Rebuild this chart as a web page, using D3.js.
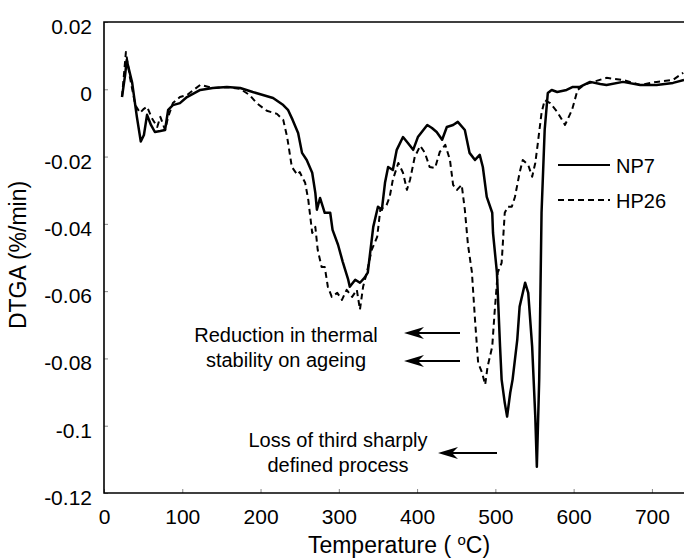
<!DOCTYPE html>
<html>
<head>
<meta charset="utf-8">
<script src="https://cdn.jsdelivr.net/npm/d3@7"></script>
<style>
  html, body { margin: 0; padding: 0; background: #fff; }
  svg { display: block; font-family: "Liberation Sans", Arial, Helvetica, sans-serif; }
</style>
</head>
<body>
<svg id="chart" width="684" height="560"></svg>
<script>
// ---- data (temperature °C, DTGA %/min) ----
const seriesNames = ["NP7", "HP26"];

const np7T = [23,27,29,36,42,47,51,55,60,65,72,78,82,88,97,106,123,139,157,174,190,203,216,229,235,241,248,253,259,266,270,272,276,282,289,292,299,305,312,314,321,327,333,337,344,350,355,359,363,369,374,382,388,395,401,413,419,425,432,438,446,452,461,467,474,480,484,489,496,497,502,506,508,512,515,519,522,528,531,538,542,547,551,553,556,559,563,567,572,579,591,599,608,621,634,642,663,685,706,727,741];
const np7V = [-0.0023,0.0043,0.0087,0.0019,-0.0082,-0.0155,-0.0136,-0.0076,-0.0106,-0.0127,-0.0124,-0.0121,-0.0061,-0.0047,-0.0041,-0.0023,-0.0002,0.0004,0.0007,0.0004,-0.0008,-0.0017,-0.0026,-0.0047,-0.0061,-0.0091,-0.013,-0.0189,-0.021,-0.0248,-0.0308,-0.0358,-0.0323,-0.0367,-0.0367,-0.0418,-0.0462,-0.0513,-0.0566,-0.0587,-0.0566,-0.0575,-0.056,-0.0545,-0.0409,-0.0349,-0.0358,-0.0278,-0.0231,-0.024,-0.018,-0.0142,-0.0159,-0.018,-0.0142,-0.0106,-0.0115,-0.0127,-0.015,-0.0112,-0.0106,-0.0097,-0.0121,-0.0189,-0.021,-0.0195,-0.0231,-0.032,-0.0367,-0.0427,-0.0545,-0.0765,-0.0863,-0.0932,-0.0973,-0.0902,-0.0863,-0.0744,-0.0646,-0.0575,-0.0605,-0.0765,-0.0973,-0.1122,-0.0863,-0.0367,-0.0121,-0.0011,-0.0002,-0.0008,-0.0002,0.0007,0.0007,0.0022,0.0016,0.0013,0.0022,0.0013,0.0013,0.0019,0.0028];

const hp26T = [23,26,28,33,40,46,51,55,61,68,72,78,82,88,97,106,123,139,157,174,186,195,208,221,229,234,240,247,250,257,261,266,270,273,278,282,286,291,298,304,310,317,323,327,331,336,342,349,353,361,365,369,376,382,387,391,397,404,410,416,423,429,436,442,446,451,457,461,465,470,474,478,483,487,490,496,499,503,508,512,516,521,525,531,535,542,547,551,554,559,563,570,579,589,598,605,613,625,642,663,685,706,727,740];
const hp26V = [-0.0023,0.0057,0.0111,0.0037,-0.0047,-0.007,-0.0058,-0.0052,-0.0085,-0.0112,-0.0082,-0.0121,-0.0082,-0.0041,-0.0023,-0.0017,0.0013,0.0004,0.0007,0.0001,-0.0017,-0.0041,-0.0064,-0.0073,-0.0091,-0.0142,-0.0231,-0.0254,-0.0246,-0.0278,-0.0329,-0.0427,-0.0409,-0.0477,-0.0528,-0.0528,-0.0587,-0.0617,-0.0605,-0.0626,-0.0596,-0.0617,-0.0596,-0.0655,-0.0587,-0.0543,-0.0477,-0.0439,-0.0358,-0.0344,-0.032,-0.0269,-0.0219,-0.0248,-0.0299,-0.0269,-0.0201,-0.0168,-0.0189,-0.0231,-0.0234,-0.0186,-0.0165,-0.021,-0.0284,-0.0299,-0.0284,-0.0358,-0.0462,-0.0543,-0.0685,-0.0813,-0.0842,-0.0878,-0.0825,-0.0765,-0.0664,-0.0545,-0.0516,-0.0367,-0.0349,-0.0349,-0.032,-0.0248,-0.021,-0.0225,-0.026,-0.0219,-0.0165,-0.007,-0.0032,-0.0041,-0.0067,-0.0106,-0.0061,-0.0002,0.0013,0.0022,0.0034,0.0028,0.0013,0.0022,0.0028,0.0049];

const xTicks = [0, 100, 200, 300, 400, 500, 600, 700];
const yTicks = [0.02, 0, -0.02, -0.04, -0.06, -0.08, -0.1, -0.12];
const yTickLabels = ["0.02", "0", "-0.02", "-0.04", "-0.06", "-0.08", "-0.1", "-0.12"];
const xDomain = [0, 741];
const yDomain = [-0.12, 0.02];

const xTitle = "Temperature ( ";
const xTitleSup = "o";
const xTitleEnd = "C)";
const yTitle = "DTGA (%/min)";

const annotations = [
  { lines: ["Reduction in thermal", "stability on ageing"] },
  { lines: ["Loss of third sharply", "defined process"] }
];

(function draw() {
  const svg = d3.select("#chart");
  const mL = 104, mT = 22, mR = 684, mB = 493;

  const x = d3.scaleLinear().domain(xDomain).range([mL, mR]);
  const y = d3.scaleLinear().domain(yDomain).range([mB, mT]);

  svg.append("defs").append("clipPath").attr("id", "clip")
    .append("rect").attr("x", mL).attr("y", mT - 10).attr("width", mR - mL).attr("height", mB - mT + 10);

  const yAxis = d3.axisLeft(y).tickValues(yTicks)
    .tickFormat((d, i) => yTickLabels[i]).tickSizeInner(-4).tickSizeOuter(0).tickPadding(12);
  const gy = svg.append("g").attr("transform", `translate(${mL},0)`).call(yAxis);
  gy.select(".domain").remove();
  gy.selectAll(".tick line").attr("stroke", "#888").attr("stroke-width", 1);
  gy.selectAll(".tick text").attr("font-size", 21).attr("fill", "#000")
    .attr("font-family", "Liberation Sans, Arial, sans-serif").attr("dy", "0.55em").attr("x", -12);

  const xAxis = d3.axisBottom(x).tickValues(xTicks)
    .tickFormat(d3.format("d")).tickSizeInner(-4).tickSizeOuter(0).tickPadding(0);
  const gx = svg.append("g").attr("transform", `translate(0,${mB})`).call(xAxis);
  gx.select(".domain").remove();
  gx.selectAll(".tick line").attr("stroke", "#888").attr("stroke-width", 1);
  gx.selectAll(".tick text").attr("font-size", 21).attr("fill", "#000")
    .attr("font-family", "Liberation Sans, Arial, sans-serif").attr("y", 31).attr("dy", 0);

  svg.append("path")
    .attr("d", `M${mR},${mT} L${mL},${mT} L${mL},${mB} L${mR},${mB}`)
    .attr("fill", "none").attr("stroke", "#000").attr("stroke-width", 1.6);

  const line = d3.line().x(d => x(d[0])).y(d => y(d[1]));
  const np7 = np7T.map((t, i) => [t, np7V[i]]);
  const hp26 = hp26T.map((t, i) => [t, hp26V[i]]);

  const gLines = svg.append("g").attr("clip-path", "url(#clip)");
  gLines.append("path").datum(hp26).attr("d", line)
    .attr("fill", "none").attr("stroke", "#000").attr("stroke-width", 2).attr("stroke-dasharray", "6,4")
    .attr("stroke-linejoin", "round");
  gLines.append("path").datum(np7).attr("d", line)
    .attr("fill", "none").attr("stroke", "#000").attr("stroke-width", 2.5)
    .attr("stroke-linejoin", "round");

  const legend = svg.append("g");
  [[165, null], [200, "6,4"]].forEach((cfg, i) => {
    legend.append("line").attr("x1", 558).attr("x2", 610).attr("y1", cfg[0]).attr("y2", cfg[0])
      .attr("stroke", "#000").attr("stroke-width", 2).attr("stroke-dasharray", cfg[1]);
    legend.append("text").attr("x", 616).attr("y", cfg[0] + 8).attr("font-size", 20)
      .text(seriesNames[i]);
  });

  const xt = svg.append("text").attr("x", 399).attr("y", 553).attr("text-anchor", "middle").attr("font-size", 23);
  xt.append("tspan").text(xTitle);
  xt.append("tspan").attr("font-size", 15).attr("dy", -8).text(xTitleSup);
  xt.append("tspan").attr("dy", 8).text(xTitleEnd);

  svg.append("text").attr("transform", "translate(26,255) rotate(-90)")
    .attr("text-anchor", "middle").attr("font-size", 23).text(yTitle);

  function arrow(x1, x2, yy) {
    svg.append("line").attr("x1", x1).attr("x2", x2 + 10).attr("y1", yy).attr("y2", yy)
      .attr("stroke", "#000").attr("stroke-width", 2);
    svg.append("path")
      .attr("d", `M${x2},${yy} L${x2 + 20},${yy - 6} L${x2 + 14},${yy} L${x2 + 20},${yy + 6} Z`)
      .attr("fill", "#000");
  }
  const a1 = svg.append("text").attr("text-anchor", "middle").attr("font-size", 20);
  a1.append("tspan").attr("x", 286).attr("y", 342).text(annotations[0].lines[0]);
  a1.append("tspan").attr("x", 286).attr("y", 367).text(annotations[0].lines[1]);
  arrow(460, 404, 333);
  arrow(460, 404, 361);

  const a2 = svg.append("text").attr("text-anchor", "middle").attr("font-size", 20);
  a2.append("tspan").attr("x", 338).attr("y", 447).text(annotations[1].lines[0]);
  a2.append("tspan").attr("x", 338).attr("y", 472).text(annotations[1].lines[1]);
  arrow(497, 438, 453);
})();
</script>
</body>
</html>
